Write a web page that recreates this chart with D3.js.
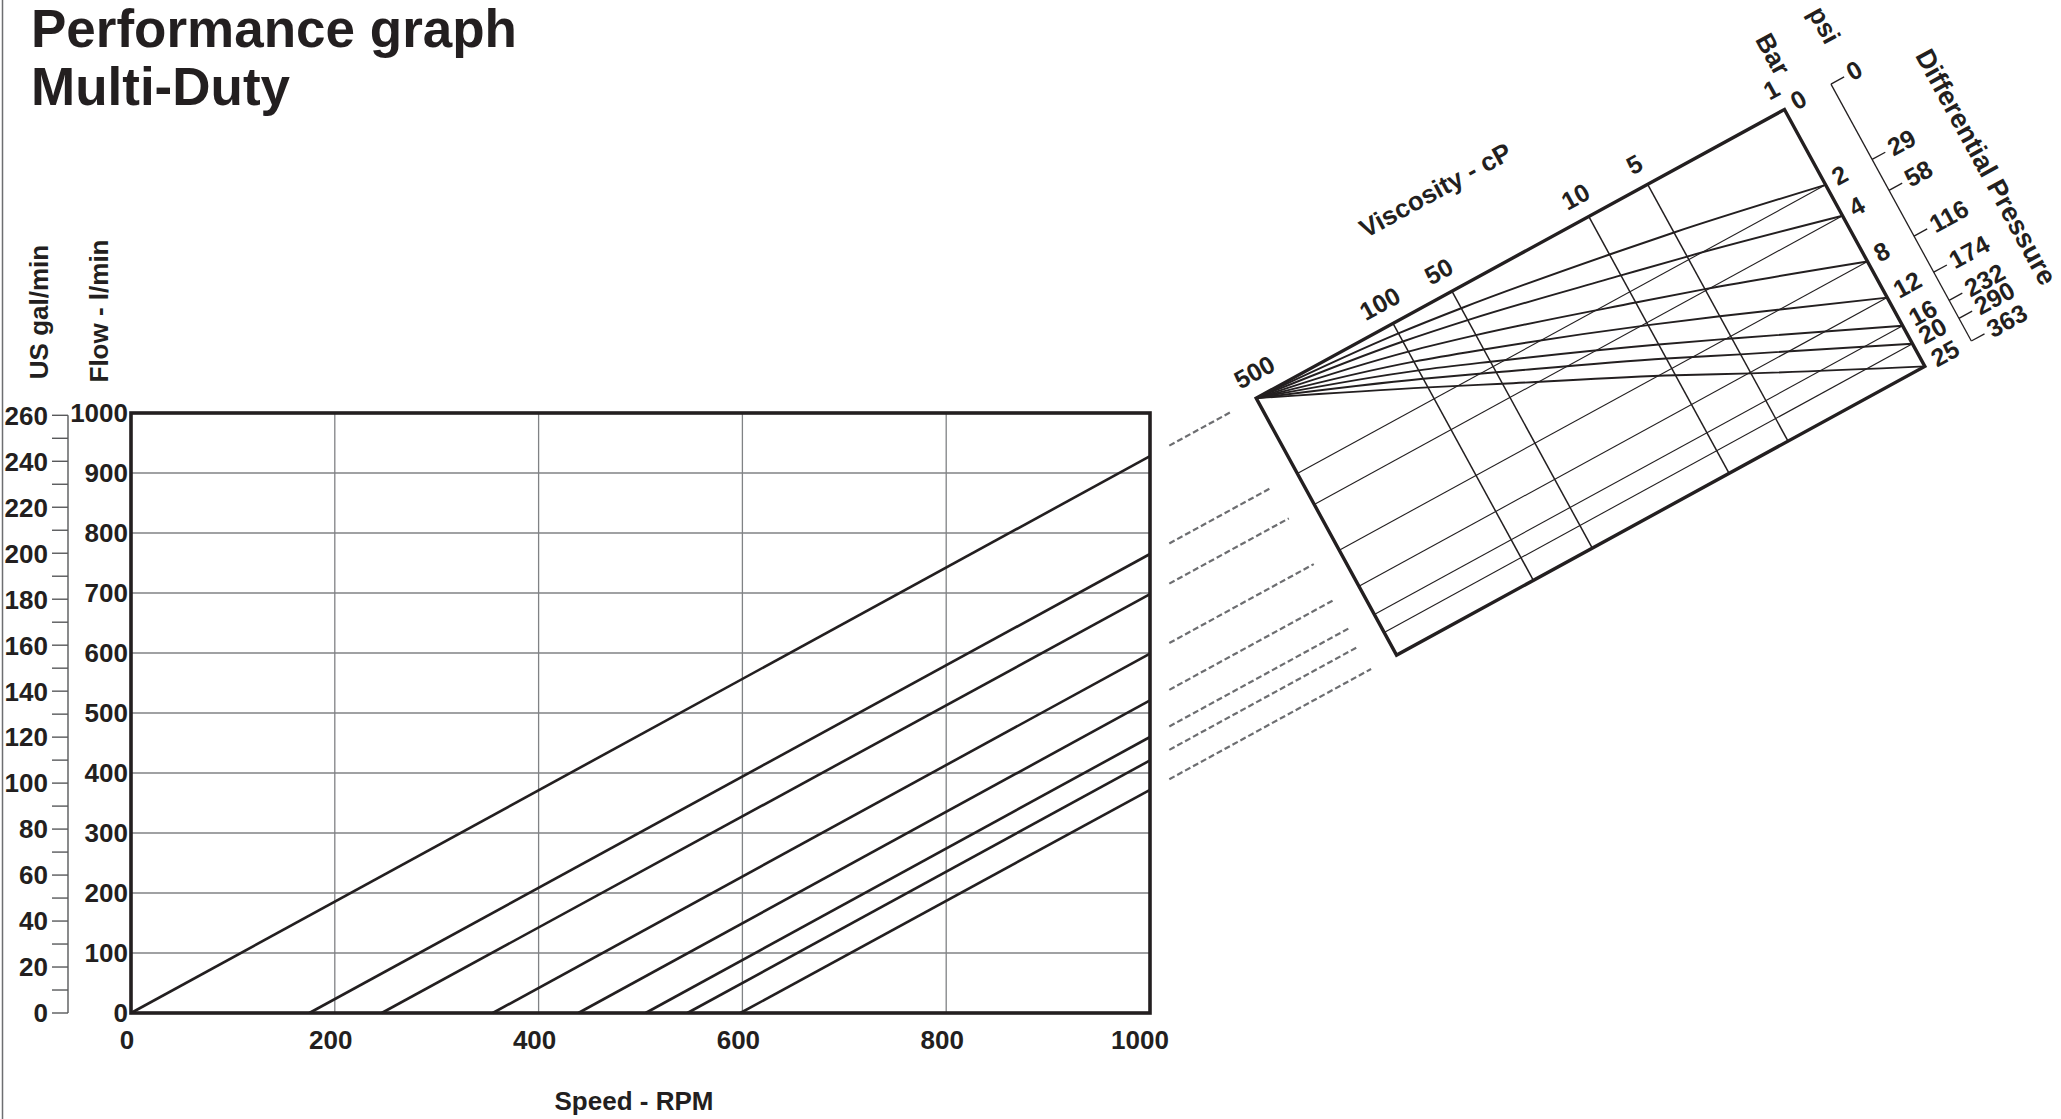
<!DOCTYPE html>
<html>
<head>
<meta charset="utf-8">
<script src="https://cdn.jsdelivr.net/npm/d3@7"></script>
<style>
  html, body { margin: 0; padding: 0; background: #fff; }
  svg text { font-family: "Liberation Sans", Arial, Helvetica, sans-serif; font-weight: bold; fill: #231f20; }
</style>
</head>
<body>
<svg id="chart" width="2061" height="1119"></svg>
<script>
// ---------------- data ----------------
const rpmTicks = [0, 200, 400, 600, 800, 1000];
const flowTicks = [0, 100, 200, 300, 400, 500, 600, 700, 800, 900, 1000];
const galMajorTicks = [0, 20, 40, 60, 80, 100, 120, 140, 160, 180, 200, 220, 240, 260];
const galMinorTicks = [10, 30, 50, 70, 90, 110, 130, 150, 170, 190, 210, 230, 250];

// performance lines: flow = 0 at slip speed, flow at 1000 RPM
const pressureBar = [0, 2, 4, 8, 12, 16, 20, 25];
const pressurePsi = [0, 29, 58, 116, 174, 232, 290, 363];
const slipRpm = [0, 175, 246, 355, 439, 505, 546, 598];
const flowAt1000 = [928, 765, 698, 599, 521, 460, 421, 372];

// viscosity nomogram
const viscosityTicks = [500, 100, 50, 10, 5, 1];
const viscosityGrid = [100, 50, 10, 5];
// fraction of each pressure's offset reached at each viscosity tick (500,100,50,10,5,1)
const curve2bar  = [0, 0.132, 0.226, 0.505, 0.640, 1];
const curve4bar  = [0, 0.170, 0.272, 0.555, 0.680, 1];
const curve8bar  = [0, 0.185, 0.289, 0.566, 0.690, 1];
const curve12bar = [0, 0.203, 0.310, 0.578, 0.702, 1];
const curve16bar = [0, 0.217, 0.326, 0.592, 0.713, 1];
const curve20bar = [0, 0.236, 0.346, 0.606, 0.726, 1];
const curve25bar = [0, 0.249, 0.360, 0.618, 0.736, 1];
const curves = [null, curve2bar, curve4bar, curve8bar, curve12bar, curve16bar, curve20bar, curve25bar];

// ---------------- layout ----------------
const INK = "#231f20";
const GRID = "#808285";
const svg = d3.select("#chart");

const x = d3.scaleLinear([0, 1000], [131, 1150]);
const y = d3.scaleLinear([0, 1000], [1013, 413]);
const yGal = d3.scaleLinear([0, 261], [1013, 413]);

// page border line at left
svg.append("line").attr("x1", 2.5).attr("x2", 2.5).attr("y1", 0).attr("y2", 1119)
  .attr("stroke", "#6d6e71").attr("stroke-width", 1.5);

// titles
svg.append("text").attr("x", 31).attr("y", 47).attr("font-size", 53).text("Performance graph");
svg.append("text").attr("x", 31).attr("y", 105).attr("font-size", 53).text("Multi-Duty");

// grid
const grid = svg.append("g");
grid.selectAll("line.h").data(flowTicks.slice(1, -1)).join("line")
  .attr("x1", x(0)).attr("x2", x(1000)).attr("y1", d => y(d)).attr("y2", d => y(d))
  .attr("stroke", GRID).attr("stroke-width", 1.3);
grid.selectAll("line.v").data(rpmTicks.slice(1, -1)).join("line")
  .attr("x1", d => x(d)).attr("x2", d => x(d)).attr("y1", y(0)).attr("y2", y(1000))
  .attr("stroke", GRID).attr("stroke-width", 1.3);

// performance lines
const lineGen = d3.line().x(d => x(d[0])).y(d => y(d[1]));
svg.append("g").selectAll("path").data(pressureBar.map((p, i) => [[slipRpm[i], 0], [1000, flowAt1000[i]]]))
  .join("path").attr("d", lineGen).attr("fill", "none").attr("stroke", INK).attr("stroke-width", 2.6);

// frame
svg.append("rect").attr("x", x(0)).attr("y", y(1000)).attr("width", x(1000) - x(0)).attr("height", y(0) - y(1000))
  .attr("fill", "none").attr("stroke", INK).attr("stroke-width", 3.6);

// x axis labels
svg.append("g").selectAll("text").data(rpmTicks).join("text")
  .attr("x", d => x(d) - (d === 1000 ? 10 : 4)).attr("y", 1049).attr("text-anchor", "middle").attr("font-size", 26).text(d => d);
svg.append("text").attr("x", 634).attr("y", 1110).attr("text-anchor", "middle").attr("font-size", 26).text("Speed - RPM");

// flow axis labels
svg.append("g").selectAll("text").data(flowTicks).join("text")
  .attr("x", 128).attr("y", d => y(d)).attr("dy", "0.36em").attr("text-anchor", "end").attr("font-size", 26).text(d => d);

// gal axis
const galG = svg.append("g");
galG.append("line").attr("x1", 68).attr("x2", 68).attr("y1", yGal(260)).attr("y2", yGal(0))
  .attr("stroke", "#58595b").attr("stroke-width", 1.4);
galG.selectAll("line.t").data(galMajorTicks.concat(galMinorTicks)).join("line")
  .attr("x1", 52).attr("x2", 68).attr("y1", d => yGal(d)).attr("y2", d => yGal(d))
  .attr("stroke", "#58595b").attr("stroke-width", 1.4);
galG.selectAll("text").data(galMajorTicks).join("text")
  .attr("x", 48).attr("y", d => yGal(d)).attr("dy", "0.36em").attr("text-anchor", "end").attr("font-size", 26).text(d => d);

// axis titles
svg.append("text").attr("transform", "translate(48,312) rotate(-90)").attr("text-anchor", "middle").attr("font-size", 26).text("US gal/min");
svg.append("text").attr("transform", "translate(108,311) rotate(-90)").attr("text-anchor", "middle").attr("font-size", 26).text("Flow - l/min");

// ---------------- nomogram ----------------
const S0 = [x(slipRpm[0]), y(0)], E0 = [x(1000), y(flowAt1000[0])];
const len = Math.hypot(E0[0] - S0[0], E0[1] - S0[1]);
const dir = [(E0[0] - S0[0]) / len, (E0[1] - S0[1]) / len];
const nrm = [-dir[1], dir[0]];
const angle = Math.atan2(dir[1], dir[0]) * 180 / Math.PI;
const P0 = [E0[0] + dir[0] * 121, E0[1] + dir[1] * 121];
const W = 602;
const toLocal = p => [(p[0] - P0[0]) * dir[0] + (p[1] - P0[1]) * dir[1], (p[0] - P0[0]) * nrm[0] + (p[1] - P0[1]) * nrm[1]];
const ends = flowAt1000.map(q => toLocal([x(1000), y(q)]));
const depth = ends.map(e => e[1]);
const H = depth[depth.length - 1];

const vs = d3.scaleLog([500, 1], [0, W]);

const nomo = svg.append("g").attr("transform", `translate(${P0[0]},${P0[1]}) rotate(${angle})`);

// dashed connectors
nomo.append("g").selectAll("line").data(ends).join("line")
  .attr("x1", d => d[0] + 22).attr("x2", -29).attr("y1", d => d[1]).attr("y2", d => d[1])
  .attr("stroke", "#6d6e71").attr("stroke-width", 2.2).attr("stroke-dasharray", "6,3");

// thin flow lines
nomo.append("g").selectAll("line").data(depth.slice(1, -1)).join("line")
  .attr("x1", 0).attr("x2", W).attr("y1", d => d).attr("y2", d => d)
  .attr("stroke", INK).attr("stroke-width", 1.1);

// viscosity grid lines
nomo.append("g").selectAll("line").data(viscosityGrid).join("line")
  .attr("x1", d => vs(d)).attr("x2", d => vs(d)).attr("y1", 0).attr("y2", H)
  .attr("stroke", INK).attr("stroke-width", 1.5);

// curves
const curveGen = d3.line().curve(d3.curveMonotoneX);
nomo.append("g").selectAll("path").data(curves.slice(1).map((c, k) => c.map((f, j) => [vs(viscosityTicks[j]), f * depth[k + 1]])))
  .join("path").attr("d", curveGen).attr("fill", "none").attr("stroke", INK).attr("stroke-width", 1.9);

// frame
nomo.append("path").attr("d", `M0,0L${W},0L${W},${H}L0,${H}Z`)
  .attr("fill", "none").attr("stroke", INK).attr("stroke-width", 3.4).attr("stroke-linejoin", "miter");

// viscosity labels
nomo.append("g").selectAll("text").data(viscosityTicks).join("text")
  .attr("x", d => Math.max(11, vs(d) - 2)).attr("y", -24).attr("dy", "0.36em")
  .attr("text-anchor", "middle").attr("font-size", 25).text(d => d);
nomo.append("text").attr("x", 257).attr("y", -97).attr("dy", "0.36em").attr("text-anchor", "middle")
  .attr("font-size", 26).text("Viscosity - cP");

// bar labels
nomo.append("g").selectAll("text").data(pressureBar).join("text")
  .attr("x", W + 10).attr("y", (d, i) => depth[i] - 2).attr("dy", "0.36em")
  .attr("font-size", 25).text(d => d);

// psi axis
const psiX = W + 53;
nomo.append("line").attr("x1", psiX).attr("x2", psiX).attr("y1", 0).attr("y2", H)
  .attr("stroke", INK).attr("stroke-width", 1.3);
nomo.append("g").selectAll("line").data(depth).join("line")
  .attr("x1", psiX).attr("x2", psiX + 15).attr("y1", d => d).attr("y2", d => d)
  .attr("stroke", INK).attr("stroke-width", 1.3);
nomo.append("g").selectAll("text").data(pressurePsi).join("text")
  .attr("x", psiX + 20).attr("y", (d, i) => depth[i] - 1).attr("dy", "0.36em")
  .attr("font-size", 25).text(d => d);

// pressure headers
nomo.append("text").attr("transform", `translate(${W + 17},-54) rotate(90)`).attr("dy", "0.36em")
  .attr("text-anchor", "middle").attr("font-size", 26).text("Bar");
nomo.append("text").attr("transform", `translate(${W + 76},-55) rotate(90)`).attr("dy", "0.36em")
  .attr("text-anchor", "middle").attr("font-size", 26).text("psi");
nomo.append("text").attr("transform", `translate(${W + 150},147) rotate(90)`).attr("dy", "0.36em")
  .attr("text-anchor", "middle").attr("font-size", 27).text("Differential Pressure");
</script>
</body>
</html>
